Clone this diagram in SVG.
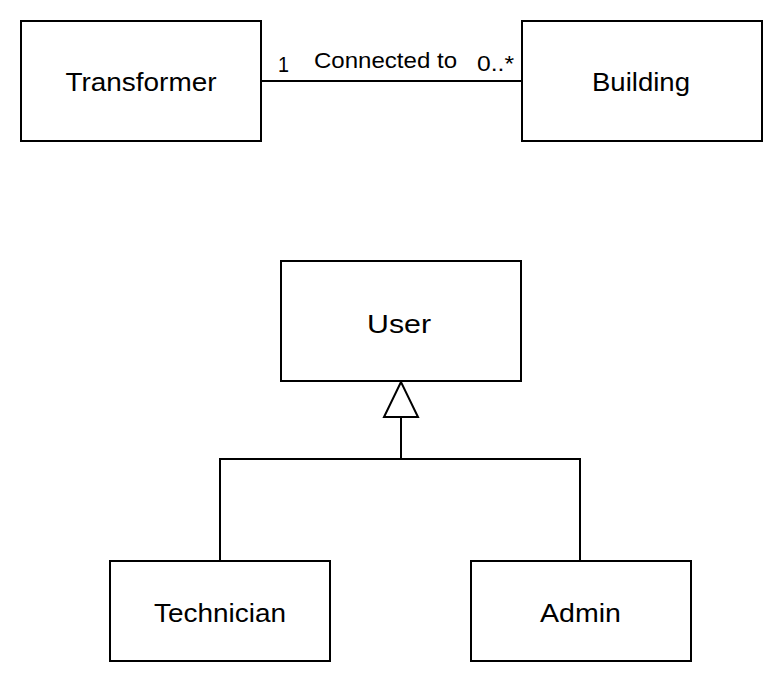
<svg xmlns="http://www.w3.org/2000/svg" width="782" height="682" viewBox="0 0 782 682">
<style>
.box{fill:#fff;stroke:#000;stroke-width:2}
.lbl{font-family:"Liberation Sans",Arial,Helvetica,sans-serif;font-size:26px;fill:#000;text-anchor:middle}
.sm{font-family:"Liberation Sans",Arial,Helvetica,sans-serif;font-size:22px;fill:#000}
.ln{fill:none;stroke:#000;stroke-width:2}
</style>
<rect width="782" height="682" fill="#fff"/>
<g id="connectors">
<line class="ln" x1="261" y1="81" x2="522" y2="81"/>
<text class="sm" x="278" y="72" textLength="11" lengthAdjust="spacingAndGlyphs">1</text>
<text class="sm" x="314" y="67.5" textLength="143" lengthAdjust="spacingAndGlyphs">Connected to</text>
<text class="sm" x="477" y="70.5" textLength="37" lengthAdjust="spacingAndGlyphs">0..*</text>
<polyline class="ln" points="220,561 220,459 580,459 580,561"/>
<line class="ln" x1="401" y1="459" x2="401" y2="417"/>
<polygon class="ln" style="fill:#fff" points="401,382 384,417 418,417"/>
</g>
<g id="transformer">
<rect class="box" x="21" y="21" width="240" height="120"/>
<text class="lbl" x="141" y="90.5" textLength="151" lengthAdjust="spacingAndGlyphs">Transformer</text>
</g>
<g id="building">
<rect class="box" x="522" y="21" width="240" height="120"/>
<text class="lbl" x="641" y="90.5" textLength="98" lengthAdjust="spacingAndGlyphs">Building</text>
</g>
<g id="user">
<rect class="box" x="281" y="261" width="240" height="120"/>
<text class="lbl" x="399" y="332.5" textLength="64" lengthAdjust="spacingAndGlyphs">User</text>
</g>
<g id="technician">
<rect class="box" x="110" y="561" width="220" height="100"/>
<text class="lbl" x="220" y="621.5" textLength="132" lengthAdjust="spacingAndGlyphs">Technician</text>
</g>
<g id="admin">
<rect class="box" x="471" y="561" width="220" height="100"/>
<text class="lbl" x="580.5" y="621.5" textLength="81" lengthAdjust="spacingAndGlyphs">Admin</text>
</g>
</svg>
